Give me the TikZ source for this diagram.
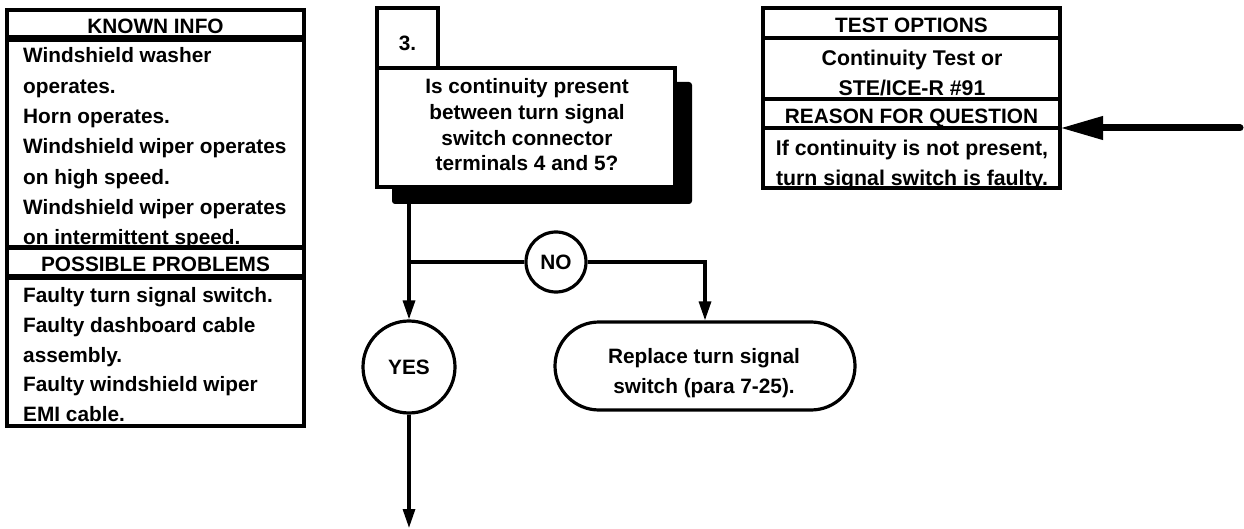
\documentclass[tikz,border=0pt]{standalone}
\usepackage{fontspec}
\setmainfont{Liberation Sans}
\usetikzlibrary{arrows.meta,shapes.misc}
\tikzset{
  fnt/.style={font=\bfseries\fontsize{20.8pt}{30.3pt}\selectfont},
  rbox/.style={draw, line width=3.2pt, fill=white, rectangle, inner sep=0pt, outer sep=0pt, anchor=north west},
  hdr/.style={rbox, fnt, text height=20pt, text depth=0pt},
  bodytxt/.style={fnt, inner sep=0pt, align=left, anchor=north west},
  ctrtxt/.style={fnt, inner sep=0pt, align=center, anchor=north},
  conn/.style={line width=3.2pt},
  arr/.style={conn, -{Triangle[length=19pt,width=12pt]}},
  bigarr/.style={line width=7pt, line cap=round, -{Triangle[length=43pt,width=22pt]}},
  circ/.style={draw, circle, line width=3.2pt, fill=white, fnt, inner sep=0pt, text depth=0pt},
  shadowbox/.style={fill=black, rounded corners=3pt, inner sep=0pt, outer sep=0pt, anchor=north west},
}
\begin{document}
\begin{tikzpicture}[x=1pt,y=-1pt]
\useasboundingbox (0,0) rectangle (1244,529);
% ---------- left: known info / possible problems
\node[hdr, minimum width=297pt, minimum height=27pt] (kih) at (7,10) {KNOWN INFO};
\node[rbox, minimum width=297pt, minimum height=207pt] (kib) at (7,40) {};
\node[bodytxt] (kit) at (23,47.6) {Windshield washer\\operates.\\Horn operates.\\Windshield wiper operates\\on high speed.\\Windshield wiper operates\\on intermittent speed.};
\node[hdr, minimum width=297pt, minimum height=28pt] (pph) at (7,248) {POSSIBLE PROBLEMS};
\node[rbox, minimum width=297pt, minimum height=148pt] (ppb) at (7,278) {};
\node[bodytxt, font=\bfseries\fontsize{20.8pt}{29.6pt}\selectfont] (ppt) at (23,287.6) {Faulty turn signal switch.\\Faulty dashboard cable\\assembly.\\Faulty windshield wiper\\EMI cable.};
% ---------- middle: question
\node[shadowbox, minimum width=300pt, minimum height=122pt] (qs) at (392,82) {};
\node[rbox, minimum width=298pt, minimum height=119pt] (q) at (377,68) {};
\node[rbox, fnt, minimum width=61pt, minimum height=60pt, text height=24.8pt, text depth=0pt] (n3) at (377,8) {3.};
\node[ctrtxt, font=\bfseries\fontsize{20.8pt}{25.7pt}\selectfont] (qt) at (527,78.6) {Is continuity present\\between turn signal\\switch connector\\terminals 4 and 5?};
% ---------- decisions
\node[circ, minimum size=92pt] (yes) at (409,367) {YES};
\node[circ, minimum size=60pt] (no) at (556,262) {NO};
\node[draw, rounded rectangle, line width=3.2pt, fill=white, minimum width=300pt, minimum height=88pt, inner sep=0pt] (rep) at (705,366) {};
\node[ctrtxt, font=\bfseries\fontsize{20.8pt}{29.5pt}\selectfont] (rept) at (704,348.6) {Replace turn signal\\switch (para 7-25).};
% ---------- right: test options / reason
\node[hdr, minimum width=297pt, minimum height=30pt] (toh) at (763,8) {TEST OPTIONS};
\node[rbox, minimum width=297pt, minimum height=61pt] (tob) at (763,38) {};
\node[ctrtxt, font=\bfseries\fontsize{21.3pt}{30pt}\selectfont] (tot) at (912,49.6) {Continuity Test or\\STE/ICE-R \#91};
\node[hdr, minimum width=297pt, minimum height=29pt] (rqh) at (763,99) {REASON FOR QUESTION};
\node[rbox, minimum width=297pt, minimum height=60pt] (rqb) at (763,128) {};
\node[ctrtxt, font=\bfseries\fontsize{21.3pt}{30pt}\selectfont] (rqt) at (912,139.6) {If continuity is not present,\\turn signal switch is faulty.};
% ---------- connectors
\coordinate (j) at (yes.north |- no.west);
\draw[arr] (q.south -| yes.north) -- (yes.north);
\draw[conn] (j) -- (no.west);
\draw[arr] (no.east) -| (rep.north);
\coordinate (bot) at (409,528);
\draw[arr] (yes.south) -- (bot);
\coordinate (src) at (1240,128);
\draw[bigarr] (src) -- (rqh.south east |- src);
\end{tikzpicture}
\end{document}
